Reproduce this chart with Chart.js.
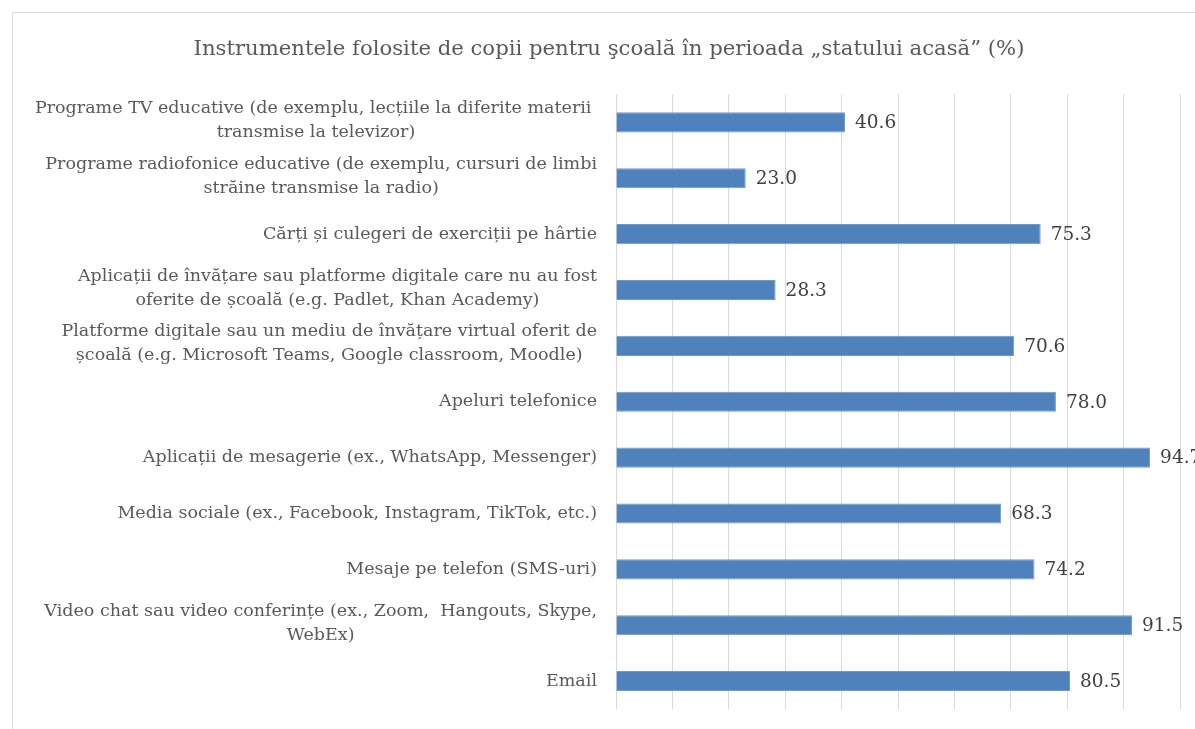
<!DOCTYPE html>
<html><head><meta charset="utf-8">
<script src="https://cdn.jsdelivr.net/npm/chart.js@4"></script>
<style>
html,body{margin:0;padding:0;background:#fff;overflow:hidden;width:1195px;height:729px;}
#frame{position:absolute;left:12px;top:12px;width:1300px;height:800px;border-top:1px solid #d9d9d9;border-left:1px solid #d9d9d9;}
#wrap{position:absolute;left:0;top:0;width:1206px;height:729px;}
</style></head><body>
<div id="frame"></div>
<div id="wrap"><canvas id="c"></canvas></div>
<script>
const titleText = 'Instrumentele folosite de copii pentru şcoală în perioada „statului acasă” (%)';
const categories = [
  ['Programe TV educative (de exemplu, lecțiile la diferite materii ', 'transmise la televizor)'],
  ['Programe radiofonice educative (de exemplu, cursuri de limbi', 'străine transmise la radio)'],
  'Cărți și culegeri de exerciții pe hârtie',
  ['Aplicații de învățare sau platforme digitale care nu au fost', 'oferite de școală (e.g. Padlet, Khan Academy)'],
  ['Platforme digitale sau un mediu de învățare virtual oferit de', 'școală (e.g. Microsoft Teams, Google classroom, Moodle)'],
  'Apeluri telefonice',
  'Aplicații de mesagerie (ex., WhatsApp, Messenger)',
  'Media sociale (ex., Facebook, Instagram, TikTok, etc.)',
  'Mesaje pe telefon (SMS-uri)',
  ['Video chat sau video conferințe (ex., Zoom,  Hangouts, Skype,', 'WebEx)'],
  'Email'
];
const values = [40.6, 23.0, 75.3, 28.3, 70.6, 78.0, 94.7, 68.3, 74.2, 91.5, 80.5];
const axisMin = 0, axisMax = 100, axisStep = 10;

const FONT = '"DejaVu Serif", serif';
const LABEL_SIZE = 17.5;
const VALUE_SIZE = 18.5;

const labelPlugin = {
  id: 'catLabels',
  afterDraw(chart) {
    const ctx = chart.ctx, ys = chart.scales.y;
    ctx.save();
    ctx.font = LABEL_SIZE + 'px ' + FONT;
    ctx.fillStyle = '#595959';
    ctx.textAlign = 'center';
    ctx.textBaseline = 'middle';
    const right = chart.chartArea.left - 19;
    const lh = 24;
    categories.forEach((c, i) => {
      const lines = Array.isArray(c) ? c : [c];
      const w = Math.max(...lines.map(l => ctx.measureText(l).width));
      const cx = right - w / 2;
      const y0 = ys.getPixelForTick(i) - (lines.length - 1) * lh / 2 - (lines.length > 1 ? 2 : 0);
      lines.forEach((l, k) => ctx.fillText(l, cx, y0 + k * lh));
    });
    ctx.restore();
  }
};
const valuePlugin = {
  id: 'valLabels',
  afterDatasetsDraw(chart) {
    const ctx = chart.ctx;
    const meta = chart.getDatasetMeta(0);
    ctx.save();
    ctx.font = VALUE_SIZE + 'px ' + FONT;
    ctx.fillStyle = '#404040';
    ctx.textAlign = 'left';
    ctx.textBaseline = 'middle';
    meta.data.forEach((bar, i) => ctx.fillText(values[i].toFixed(1), bar.x + 10, bar.y + 1));
    ctx.restore();
  }
};

new Chart(document.getElementById('c'), {
  type: 'bar',
  data: {
    labels: categories,
    datasets: [{
      data: values,
      backgroundColor: '#4F81BD',
      borderColor: '#6f98cc',
      borderWidth: 1,
      barPercentage: 0.36,
      categoryPercentage: 1
    }]
  },
  options: {
    indexAxis: 'y',
    responsive: true,
    maintainAspectRatio: false,
    animation: false,
    layout: { padding: { left: 38, right: 26, top: 0, bottom: 20 } },
    plugins: {
      legend: { display: false },
      tooltip: { enabled: false },
      title: {
        display: true,
        text: titleText,
        color: '#595959',
        font: { family: FONT, size: 21.2, weight: 'normal', lineHeight: 1.2 },
        padding: { top: 37, bottom: 32 }
      }
    },
    scales: {
      x: {
        min: axisMin, max: axisMax,
        ticks: { display: false, stepSize: axisStep },
        grid: { color: '#d9d9d9', lineWidth: 1, drawTicks: false },
        border: { display: false },
        afterFit(s) { s.height = 0; }
      },
      y: {
        ticks: { display: false },
        grid: { display: false },
        border: { display: false },
        afterFit(s) { s.width = 578; }
      }
    }
  },
  plugins: [labelPlugin, valuePlugin]
});
</script>
</body></html>
